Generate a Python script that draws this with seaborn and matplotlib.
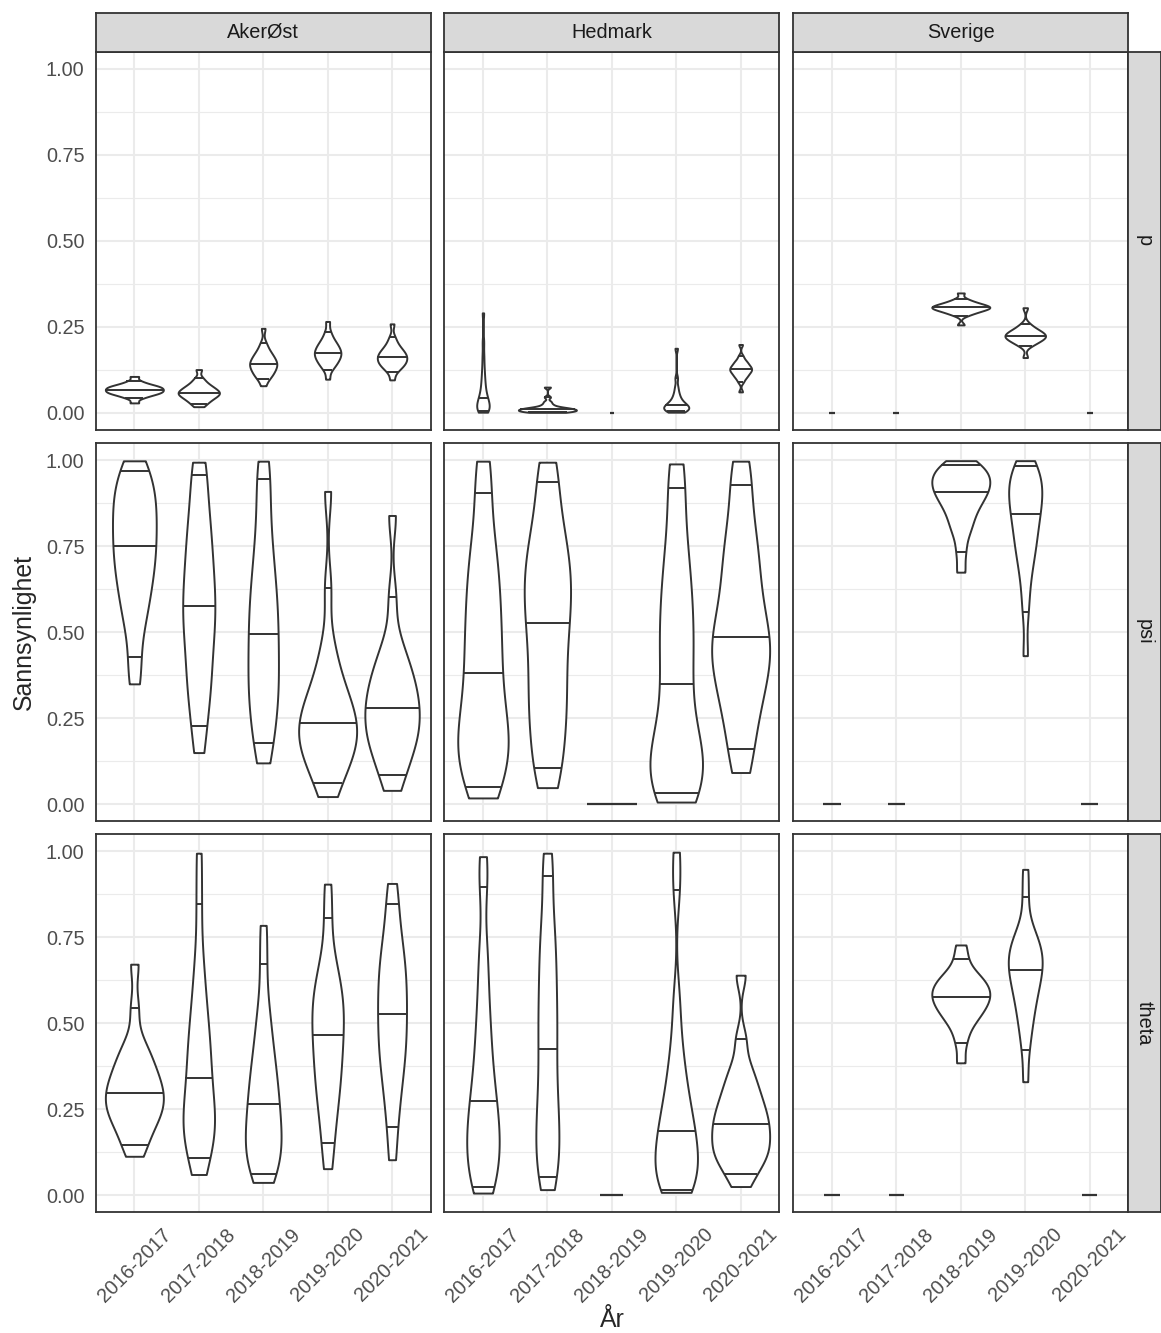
import numpy as np
import pandas as pd
import matplotlib
matplotlib.use("Agg")
import matplotlib.pyplot as plt
import seaborn as sns

# ---------------------------------------------------------------------------
# Posterior summaries: each list holds the 0th, 5th, 10th, ..., 100th
# percentile (21 values) of the posterior for one season. A single [0.0]
# marks a parameter that is fixed at zero for that season.
# ---------------------------------------------------------------------------
years = ["2016-2017", "2017-2018", "2018-2019", "2019-2020", "2020-2021"]
regions = ["AkerØst", "Hedmark", "Sverige"]
params = ["p", "psi", "theta"]

p_akerost = [
    [0.028, 0.042, 0.047, 0.051, 0.054, 0.056, 0.058, 0.060, 0.062, 0.064, 0.066,
     0.068, 0.070, 0.072, 0.074, 0.076, 0.078, 0.081, 0.085, 0.091, 0.105],
    [0.017, 0.026, 0.032, 0.037, 0.041, 0.045, 0.048, 0.051, 0.054, 0.056, 0.058,
     0.061, 0.064, 0.067, 0.070, 0.074, 0.078, 0.083, 0.090, 0.100, 0.125],
    [0.078, 0.097, 0.104, 0.110, 0.116, 0.121, 0.126, 0.130, 0.135, 0.139, 0.142,
     0.146, 0.150, 0.155, 0.160, 0.165, 0.171, 0.178, 0.188, 0.203, 0.245],
    [0.097, 0.124, 0.134, 0.141, 0.147, 0.152, 0.157, 0.162, 0.166, 0.170, 0.174,
     0.178, 0.182, 0.187, 0.192, 0.197, 0.203, 0.210, 0.220, 0.235, 0.265],
    [0.095, 0.118, 0.127, 0.133, 0.138, 0.142, 0.146, 0.150, 0.154, 0.158, 0.161,
     0.165, 0.169, 0.173, 0.177, 0.182, 0.188, 0.195, 0.205, 0.220, 0.258],
]
p_hedmark = [
    [0.001, 0.003, 0.006, 0.009, 0.013, 0.017, 0.021, 0.026, 0.031, 0.036, 0.041,
     0.048, 0.057, 0.068, 0.080, 0.095, 0.112, 0.135, 0.165, 0.205, 0.290],
    [0.0005, 0.0010, 0.0020, 0.0030, 0.0040, 0.0050, 0.0060, 0.0070, 0.0080, 0.0090, 0.0100,
     0.0110, 0.0120, 0.0130, 0.0140, 0.0165, 0.0200, 0.0250, 0.0320, 0.0450, 0.0740],
    [0.0],
    [0.001, 0.003, 0.005, 0.007, 0.009, 0.011, 0.013, 0.015, 0.017, 0.019, 0.021,
     0.024, 0.027, 0.031, 0.036, 0.042, 0.050, 0.060, 0.075, 0.100, 0.187],
    [0.060, 0.088, 0.097, 0.103, 0.107, 0.111, 0.115, 0.118, 0.121, 0.123, 0.126,
     0.129, 0.131, 0.134, 0.137, 0.141, 0.145, 0.149, 0.155, 0.165, 0.198],
]
p_sverige = [
    [0.0],
    [0.0],
    [0.255, 0.282, 0.288, 0.291, 0.2945, 0.297, 0.299, 0.3014, 0.3025, 0.3049, 0.306,
     0.3072, 0.3095, 0.3106, 0.3129, 0.3152, 0.3175, 0.321, 0.3244, 0.331, 0.348],
    [0.160, 0.193, 0.1996, 0.204, 0.2077, 0.2113, 0.214, 0.2167, 0.2194, 0.2212, 0.223,
     0.2257, 0.2284, 0.2311, 0.2338, 0.2365, 0.2401, 0.2446, 0.250, 0.259, 0.305],
    [0.0],
]

psi_akerost = [
    [0.350, 0.427, 0.505, 0.550, 0.588, 0.620, 0.650, 0.677, 0.702, 0.726, 0.750,
     0.773, 0.797, 0.820, 0.844, 0.867, 0.890, 0.914, 0.938, 0.970, 0.999],
    [0.150, 0.226, 0.290, 0.330, 0.370, 0.410, 0.450, 0.490, 0.520, 0.550, 0.576,
     0.610, 0.640, 0.675, 0.710, 0.750, 0.790, 0.830, 0.880, 0.957, 0.995],
    [0.120, 0.178, 0.220, 0.260, 0.300, 0.330, 0.360, 0.390, 0.430, 0.465, 0.496,
     0.530, 0.565, 0.600, 0.640, 0.680, 0.730, 0.790, 0.860, 0.945, 0.998],
    [0.022, 0.061, 0.100, 0.123, 0.141, 0.158, 0.175, 0.191, 0.206, 0.222, 0.236,
     0.252, 0.270, 0.288, 0.310, 0.335, 0.365, 0.410, 0.470, 0.630, 0.910],
    [0.040, 0.085, 0.122, 0.148, 0.170, 0.190, 0.208, 0.226, 0.244, 0.262, 0.280,
     0.298, 0.316, 0.336, 0.357, 0.380, 0.405, 0.435, 0.480, 0.604, 0.840],
]
psi_hedmark = [
    [0.018, 0.050, 0.100, 0.128, 0.155, 0.182, 0.212, 0.245, 0.285, 0.330, 0.382,
     0.424, 0.470, 0.517, 0.566, 0.616, 0.668, 0.724, 0.790, 0.905, 0.998],
    [0.048, 0.104, 0.160, 0.210, 0.260, 0.300, 0.345, 0.390, 0.440, 0.485, 0.526,
     0.565, 0.600, 0.635, 0.670, 0.705, 0.745, 0.790, 0.845, 0.937, 0.995],
    [0.0],
    [0.006, 0.031, 0.053, 0.076, 0.099, 0.123, 0.150, 0.183, 0.225, 0.283, 0.350,
     0.400, 0.450, 0.500, 0.550, 0.600, 0.660, 0.720, 0.800, 0.919, 0.990],
    [0.092, 0.160, 0.225, 0.275, 0.315, 0.350, 0.385, 0.415, 0.440, 0.465, 0.487,
     0.520, 0.555, 0.595, 0.640, 0.685, 0.730, 0.780, 0.840, 0.930, 0.998],
]
psi_sverige = [
    [0.0],
    [0.0],
    [0.675, 0.735, 0.783, 0.808, 0.829, 0.848, 0.865, 0.877, 0.889, 0.900, 0.908,
     0.918, 0.926, 0.935, 0.943, 0.951, 0.960, 0.969, 0.978, 0.988, 0.9995],
    [0.432, 0.560, 0.630, 0.680, 0.715, 0.740, 0.765, 0.785, 0.808, 0.828, 0.845,
     0.862, 0.878, 0.893, 0.908, 0.922, 0.936, 0.951, 0.966, 0.983, 0.9995],
    [0.0],
]

theta_akerost = [
    [0.113, 0.145, 0.175, 0.200, 0.217, 0.232, 0.246, 0.259, 0.272, 0.285, 0.298,
     0.311, 0.325, 0.340, 0.357, 0.376, 0.397, 0.420, 0.450, 0.545, 0.672],
    [0.060, 0.108, 0.140, 0.163, 0.185, 0.204, 0.223, 0.243, 0.268, 0.300, 0.341,
     0.370, 0.400, 0.435, 0.470, 0.510, 0.560, 0.620, 0.700, 0.848, 0.995],
    [0.037, 0.061, 0.085, 0.108, 0.130, 0.150, 0.170, 0.190, 0.215, 0.240, 0.265,
     0.290, 0.315, 0.345, 0.375, 0.410, 0.450, 0.500, 0.560, 0.672, 0.785],
    [0.077, 0.152, 0.210, 0.255, 0.292, 0.325, 0.355, 0.385, 0.413, 0.441, 0.467,
     0.493, 0.518, 0.542, 0.566, 0.590, 0.618, 0.650, 0.700, 0.806, 0.905],
    [0.103, 0.197, 0.260, 0.310, 0.350, 0.385, 0.415, 0.443, 0.472, 0.500, 0.528,
     0.556, 0.584, 0.612, 0.640, 0.669, 0.700, 0.735, 0.780, 0.846, 0.907],
]
theta_hedmark = [
    [0.006, 0.024, 0.060, 0.088, 0.113, 0.138, 0.163, 0.188, 0.213, 0.243, 0.273,
     0.305, 0.345, 0.390, 0.440, 0.495, 0.560, 0.640, 0.730, 0.898, 0.985],
    [0.016, 0.053, 0.095, 0.130, 0.165, 0.200, 0.240, 0.280, 0.325, 0.375, 0.424,
     0.470, 0.515, 0.560, 0.610, 0.660, 0.710, 0.765, 0.830, 0.930, 0.995],
    [0.0],
    [0.008, 0.016, 0.030, 0.048, 0.065, 0.085, 0.105, 0.125, 0.145, 0.165, 0.186,
     0.210, 0.235, 0.265, 0.300, 0.340, 0.390, 0.460, 0.570, 0.889, 0.998],
    [0.025, 0.061, 0.088, 0.103, 0.118, 0.133, 0.148, 0.163, 0.178, 0.193, 0.208,
     0.223, 0.239, 0.256, 0.275, 0.296, 0.320, 0.347, 0.383, 0.455, 0.640],
]
theta_sverige = [
    [0.0],
    [0.0],
    [0.385, 0.443, 0.480, 0.503, 0.518, 0.530, 0.541, 0.551, 0.560, 0.569, 0.577,
     0.585, 0.593, 0.601, 0.610, 0.619, 0.629, 0.640, 0.655, 0.688, 0.728],
    [0.330, 0.423, 0.475, 0.510, 0.540, 0.565, 0.587, 0.607, 0.625, 0.640, 0.654,
     0.668, 0.682, 0.695, 0.708, 0.722, 0.737, 0.755, 0.780, 0.867, 0.948],
    [0.0],
]

posterior = {
    ("p", "AkerØst"): p_akerost, ("p", "Hedmark"): p_hedmark, ("p", "Sverige"): p_sverige,
    ("psi", "AkerØst"): psi_akerost, ("psi", "Hedmark"): psi_hedmark, ("psi", "Sverige"): psi_sverige,
    ("theta", "AkerØst"): theta_akerost, ("theta", "Hedmark"): theta_hedmark,
    ("theta", "Sverige"): theta_sverige,
}

# width (in category units) of the flat mark drawn for a parameter fixed at zero
flat_width = {
    ("p", "Hedmark"): 0.07, ("p", "Sverige"): 0.09,
    ("psi", "Hedmark"): 0.77, ("psi", "Sverige"): 0.27,
    ("theta", "Hedmark"): 0.36, ("theta", "Sverige"): 0.24,
}

# kernel bandwidth multiplier per panel (skewed, boundary-hugging panels need less)
bw_default = 0.62
bw_scale = {("p", "Hedmark"): 0.42, ("theta", "Hedmark"): 0.5}

rows = []
for (par, reg), per_year in posterior.items():
    for yr, vals in zip(years, per_year):
        for v in vals:
            rows.append({"param": par, "region": reg, "year": yr, "value": v,
                         "fixed": len(vals) == 1})
df = pd.DataFrame(rows)

# ---------------------------------------------------------------------------
# Styling (theme_bw look)
# ---------------------------------------------------------------------------
sns.set_style("white")
plt.rcParams["font.family"] = ["Liberation Sans", "DejaVu Sans"]

LINE = "#333333"
GRID = "#EBEBEB"
STRIP_FILL = "#D9D9D9"
TICK_TXT = "#4D4D4D"
FS = 14.3

W, H = 1161, 1333
fig = plt.figure(figsize=(W / 100, H / 100), dpi=100)

col_left = [95.7, 444.3, 793.3]
row_top = [51.7, 443.3, 834.3]
panel_w, panel_h = 335.0, 378.0


def rect(x0, y0, w, h):
    return [x0 / W, 1 - (y0 + h) / H, w / W, h / H]


def draw_strip(x0, y0, w, h, text, rotation):
    sax = fig.add_axes(rect(x0, y0, w, h))
    sax.set_facecolor(STRIP_FILL)
    sax.set_xticks([])
    sax.set_yticks([])
    for s in sax.spines.values():
        s.set_color(LINE)
        s.set_linewidth(1.3)
    sax.text(0.5, 0.5, text, transform=sax.transAxes, ha="center", va="center",
             rotation=rotation, fontsize=FS, color="#1A1A1A")


for r, par in enumerate(params):
    for c, reg in enumerate(regions):
        ax = fig.add_axes(rect(col_left[c], row_top[r], panel_w, panel_h))
        sub = df[(df.param == par) & (df.region == reg)]
        varying = sub[~sub.fixed]

        sns.violinplot(data=varying, x="year", y="value", order=years, ax=ax,
                       cut=0, width=0.9, inner=None, density_norm="area",
                       bw_adjust=bw_scale.get((par, reg), bw_default), gridsize=300,
                       color="white", saturation=1, linecolor=LINE, linewidth=1.4)

        # 5 %, 50 % and 95 % quantile lines across each violin body
        for coll in ax.collections:
            verts = coll.get_paths()[0].vertices
            centre = np.round(np.mean([verts[:, 0].min(), verts[:, 0].max()]))
            yr = years[int(centre)]
            vals = varying[varying.year == yr]["value"].to_numpy()
            right = verts[verts[:, 0] > centre + 1e-9]
            order = np.argsort(right[:, 1])
            ys, xs = right[order, 1], right[order, 0]
            qs = np.quantile(vals, [0.05, 0.5, 0.95])
            hw = np.interp(qs, ys, xs) - centre
            ax.hlines(qs, centre - hw, centre + hw, color=LINE, linewidth=1.4, zorder=3)

        # parameters fixed at zero collapse to a flat line
        fixed = sub[sub.fixed]
        for yr in fixed.year.unique():
            i = years.index(yr)
            w = flat_width[(par, reg)] / 2
            ax.hlines(0.0, i - w, i + w, color=LINE, linewidth=1.6, zorder=3)

        ax.set_xlim(-0.6, 4.6)
        ax.set_ylim(-0.05, 1.05)
        ax.set_xlabel("")
        ax.set_ylabel("")
        ax.set_axisbelow(True)
        ax.set_yticks([0, 0.25, 0.5, 0.75, 1.0])
        ax.set_yticks([0.125, 0.375, 0.625, 0.875], minor=True)
        ax.set_xticks(range(len(years)))
        ax.grid(which="major", color=GRID, linewidth=1.5)
        ax.grid(which="minor", axis="y", color=GRID, linewidth=0.8)
        for s in ax.spines.values():
            s.set_visible(True)
            s.set_color(LINE)
            s.set_linewidth(1.3)
        ax.tick_params(which="minor", length=0)
        ax.tick_params(which="major", length=5, width=1.1, color=LINE,
                       labelcolor=TICK_TXT, labelsize=FS)

        if c == 0:
            ax.set_yticklabels(["0.00", "0.25", "0.50", "0.75", "1.00"])
            ax.tick_params(axis="y", pad=3)
        else:
            ax.tick_params(axis="y", length=0, labelleft=False)
        if r == len(params) - 1:
            ax.set_xticklabels(years, rotation=45, ha="center")
            ax.tick_params(axis="x", pad=4)
        else:
            ax.tick_params(axis="x", length=0, labelbottom=False)

        if r == 0:
            draw_strip(col_left[c], 13.3, panel_w, row_top[0] - 13.3, reg, 0)
    draw_strip(col_left[2] + panel_w, row_top[r], W - (col_left[2] + panel_w) - 0.5,
               panel_h, par, 270)

fig.text(612 / W, 1 - 1320 / H, "År", ha="center", va="center", fontsize=17.9)
fig.text(24 / W, 1 - 632 / H, "Sannsynlighet", ha="center", va="center",
         rotation=90, fontsize=17.9)

fig.savefig("out.png", dpi=100, facecolor="white")
